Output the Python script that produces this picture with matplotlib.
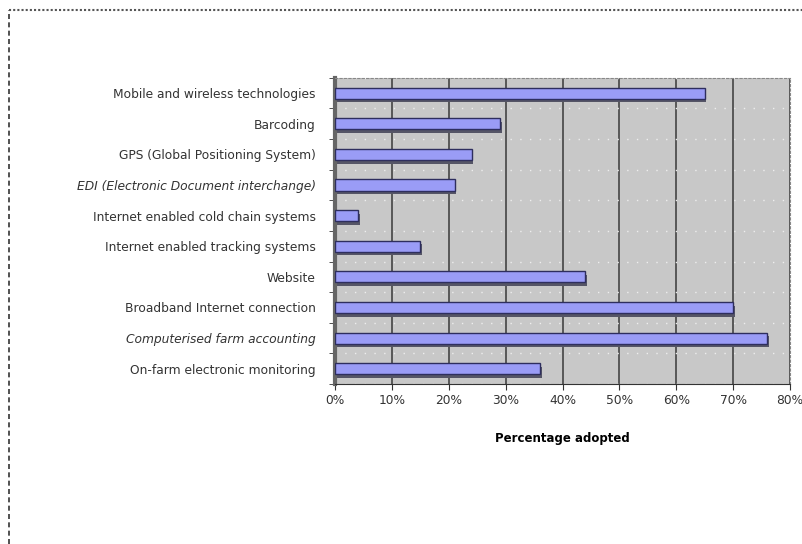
import matplotlib.pyplot as plt
import numpy as np
from matplotlib.lines import Line2D

plt.rcParams["font.family"] = ["DejaVu Sans"]

CATEGORIES = [
    "Mobile and wireless technologies",
    "Barcoding",
    "GPS (Global Positioning System)",
    "EDI (Electronic Document interchange)",
    "Internet enabled cold chain systems",
    "Internet enabled tracking systems",
    "Website",
    "Broadband Internet connection",
    "Computerised farm accounting",
    "On-farm electronic monitoring",
]
ADOPTED = [65, 29, 24, 21, 4, 15, 44, 70, 76, 36]
ITALIC = [False, False, False, True, False, False, False, False, True, False]
X_TICKS = [0, 10, 20, 30, 40, 50, 60, 70, 80]

fig = plt.figure(figsize=(8.02, 5.44), dpi=100)
ax = fig.add_axes([0.418, 0.294, 0.567, 0.563])

y = np.arange(len(CATEGORIES))

ax.set_facecolor("#c8c8c8")
ax.set_xlim(0, 80)
ax.set_ylim(len(CATEGORIES) - 0.5, -0.5)

# gridlines
for xt in X_TICKS[1:]:
    ax.axvline(xt, color="#444444", lw=1.2, zorder=1)
for yb in np.arange(-0.5, len(CATEGORIES), 1):
    ax.axhline(yb, color="#eeeeee", lw=1.0, ls=(0, (1, 6)), zorder=1)

# shadow bars then main bars
ax.barh(y + 0.12, ADOPTED, height=0.36, left=0.3, color="#555566", zorder=2)
ax.barh(y, ADOPTED, height=0.36, color="#9a9cf6", edgecolor="#2e2e5e",
        linewidth=1.0, zorder=3)

ax.set_yticks(y)
ax.set_yticklabels(CATEGORIES, fontsize=8.8, color="#333333")
for lbl, it in zip(ax.get_yticklabels(), ITALIC):
    if it:
        lbl.set_style("italic")
ax.set_yticks(np.arange(-0.5, len(CATEGORIES), 1), minor=True)
ax.tick_params(axis="y", which="major", length=0, pad=14)
ax.tick_params(axis="y", which="minor", length=4, color="#333333")

ax.set_xticks(X_TICKS)
ax.set_xticklabels([f"{v}%" for v in X_TICKS], fontsize=8.8, color="#333333")
ax.tick_params(axis="x", length=4, color="#333333")
ax.set_xlabel("Percentage adopted", fontsize=8.5, fontweight="bold", labelpad=18)

for side in ["top", "right"]:
    ax.spines[side].set_color("#888888")
    ax.spines[side].set_linestyle((0, (2, 2)))
ax.spines["left"].set_color("#666666")
ax.spines["left"].set_linewidth(3)
ax.spines["bottom"].set_color("#333333")

# dashed frame of the chart area
fig.add_artist(Line2D([0.011, 0.011], [0.0, 0.982], transform=fig.transFigure,
                      color="#333333", lw=1.2, ls=(0, (3, 2))))
fig.add_artist(Line2D([0.011, 1.0], [0.982, 0.982], transform=fig.transFigure,
                      color="#555555", lw=1.5, ls=(0, (1, 1))))

fig.savefig("out.png", dpi=100)
